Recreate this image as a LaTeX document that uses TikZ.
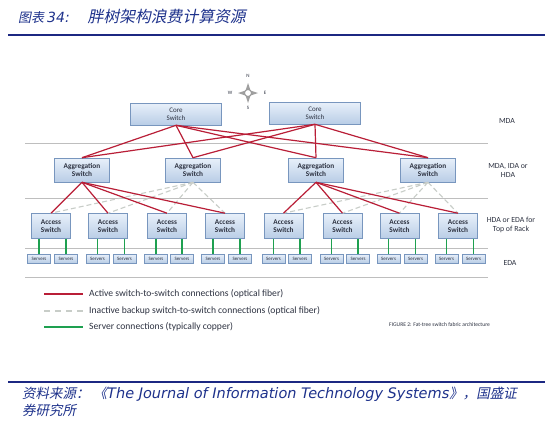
\documentclass[tikz,border=0pt]{standalone}
\usepackage{fontspec}
\setmainfont{Carlito}
\newfontfamily\cjk[FakeSlant=0.2]{Noto Sans CJK SC}
\newfontfamily\dvs{DejaVu Sans}
\definecolor{navy}{RGB}{28,40,130}
\definecolor{ttl}{RGB}{30,50,140}
\definecolor{boxb}{RGB}{120,150,190}
\definecolor{boxt}{RGB}{232,240,250}
\definecolor{boxm}{RGB}{185,205,230}
\definecolor{txt}{RGB}{45,50,65}
\definecolor{redc}{RGB}{185,30,55}
\definecolor{grayd}{RGB}{200,205,200}
\definecolor{greenc}{RGB}{30,160,80}
\definecolor{sep}{RGB}{190,190,190}
\begin{document}
\begin{tikzpicture}[x=1pt,y=-1pt,
  box/.style={draw=boxb, top color=boxt, bottom color=boxm, line width=0.6pt, align=center, inner sep=0pt, text=txt},
  corebox/.style={box, minimum width=91pt, minimum height=22pt, font=\fontsize{7}{8}\selectfont},
  aggbox/.style={box, minimum width=55pt, minimum height=24pt, font=\fontsize{7.3}{8.5}\selectfont\bfseries},
  accbox/.style={box, minimum width=39pt, minimum height=25pt, font=\fontsize{7.3}{8.5}\selectfont\bfseries},
  srvbox/.style={box, minimum width=23pt, minimum height=9pt, font=\fontsize{5}{5}\selectfont},
  active/.style={draw=redc, line width=1.2pt},
  backup/.style={draw=grayd, line width=1.1pt, dash pattern=on 5pt off 3pt},
  srvline/.style={draw=greenc, line width=1.1pt},
  sepline/.style={draw=sep, line width=0.7pt},
  lbl/.style={font=\fontsize{7.8}{9}\selectfont, text=txt, align=center},
  leg/.style={font=\fontsize{9.6}{10}\selectfont, text=txt, anchor=west, inner sep=0pt},
]
\useasboundingbox[fill=white] (0,0) rectangle (552,429);

% title and rules
\node[anchor=west, inner sep=0pt, text=ttl] (title) at (18,16)
  {{\cjk\fontsize{13}{14}\selectfont 图表}\hspace{3pt}{\dvs\itshape\fontsize{14}{15}\selectfont 34:}\hspace{18pt}{\cjk\fontsize{15.8}{16}\selectfont 胖树架构浪费计算资源}};
\coordinate (r1a) at (8,35); \coordinate (r1b) at (545,35);
\draw[navy, line width=2pt] (r1a) -- (r1b);
\coordinate (r2a) at (8,382); \coordinate (r2b) at (545,382);
\draw[navy, line width=2pt] (r2a) -- (r2b);
\node[anchor=west, inner sep=0pt, text=ttl] (src1) at (22,394)
  {{\cjk\fontsize{13.5}{14}\selectfont 资料来源：}\hspace{4pt}{\cjk\fontsize{13.5}{14}\selectfont 《}{\dvs\itshape\fontsize{14.5}{15}\selectfont The Journal of Information Technology Systems}{\cjk\fontsize{13.5}{14}\selectfont 》，国盛证}};
\node[anchor=west, inner sep=0pt, text=ttl] (src2) at (22,410)
  {{\cjk\fontsize{13.5}{14}\selectfont 券研究所}};

% separator lines
\foreach \yy/\nm in {143/s1,198/s2,248/s3,277/s4}{
  \coordinate (\nm a) at (25,\yy); \coordinate (\nm b) at (488,\yy);
  \draw[sepline] (\nm a) -- (\nm b);
}

% compass
\begin{scope}[shift={(248,93)}]
  \fill[gray!75] (0,-10) -- (2.5,-2.5) -- (10,0) -- (2.5,2.5) -- (0,10) -- (-2.5,2.5) -- (-10,0) -- (-2.5,-2.5) -- cycle;
  \node[circle, draw=gray!80, fill=white, line width=0.9pt, minimum size=7pt, inner sep=0pt] (cc) at (0,0) {};
  \node[font=\fontsize{5}{5}\selectfont, text=txt] (cn) at (0,-17) {N};
  \node[font=\fontsize{5}{5}\selectfont, text=txt] (cs) at (0,15) {S};
  \node[font=\fontsize{5}{5}\selectfont, text=txt] (cw) at (-18,0) {W};
  \node[font=\fontsize{5}{5}\selectfont, text=txt] (ce) at (17,0) {E};
\end{scope}

% right labels
\node[lbl] (l1) at (507,121) {MDA};
\node[lbl] (l2) at (508,170) {MDA, IDA or\\HDA};
\node[lbl] (l3) at (511,225) {HDA or EDA for\\Top of Rack};
\node[lbl] (l4) at (510,263) {EDA};

% core
\node[corebox] (c1) at (176,114) {Core\\Switch};
\node[corebox] (c2) at (315,113) {Core\\Switch};
% aggregation
\node[aggbox] (a1) at (82,170) {Aggregation\\Switch};
\node[aggbox] (a2) at (193,170) {Aggregation\\Switch};
\node[aggbox] (a3) at (316,170) {Aggregation\\Switch};
\node[aggbox] (a4) at (428,170) {Aggregation\\Switch};
% access
\foreach \i/\xx in {1/51,2/108,3/167,4/225,5/283.5,6/342.5,7/399.5,8/458}{
  \node[accbox] (x\i) at (\xx,226) {Access\\Switch};
}
% servers
\foreach \i/\xx in {1/39,2/66,3/97.5,4/124.5,5/156,6/182,7/213,8/240,9/273.5,10/300,11/331.5,12/358,13/388.5,14/415.5,15/446.5,16/473.5}{
  \node[srvbox] (v\i) at (\xx,258.5) {Servers};
}

% backup connections
\foreach \j in {1,2,3,4}{ \draw[backup] (a2.south) -- (x\j.north); }
\foreach \j in {5,6,7,8}{ \draw[backup] (a4.south) -- (x\j.north); }
% core to aggregation
\foreach \a in {a1,a2,a3,a4}{
  \draw[active] (c1.south) -- (\a.north);
  \draw[active] (c2.south) -- (\a.north);
}
% aggregation to access
\foreach \j in {1,2,3,4}{ \draw[active] (a1.south) -- (x\j.north); }
\foreach \j in {5,6,7,8}{ \draw[active] (a3.south) -- (x\j.north); }
% server connections
\foreach \j/\s in {1/1,1/2,2/3,2/4,3/5,3/6,4/7,4/8,5/9,5/10,6/11,6/12,7/13,7/14,8/15,8/16}{
  \draw[srvline] (x\j.south -| v\s.north) -- (v\s.north);
}

% legend
\coordinate (g1a) at (44,294); \coordinate (g1b) at (83,294);
\draw[active] (g1a) -- (g1b);
\node[leg] (t1) at (89,294) {Active switch-to-switch connections (optical fiber)};
\coordinate (g2a) at (44,311); \coordinate (g2b) at (83,311);
\draw[draw=grayd, line width=1.1pt, dash pattern=on 6pt off 5pt] (g2a) -- (g2b);
\node[leg] (t2) at (89,311) {Inactive backup switch-to-switch connections (optical fiber)};
\coordinate (g3a) at (44,327); \coordinate (g3b) at (83,327);
\draw[srvline] (g3a) -- (g3b);
\node[leg] (t3) at (89,327) {Server connections (typically copper)};
\node[anchor=west, inner sep=0pt, font=\fontsize{5.6}{6}\selectfont, text=txt] (fig) at (389,325) {FIGURE 2: Fat-tree switch fabric architecture};
\end{tikzpicture}
\end{document}
